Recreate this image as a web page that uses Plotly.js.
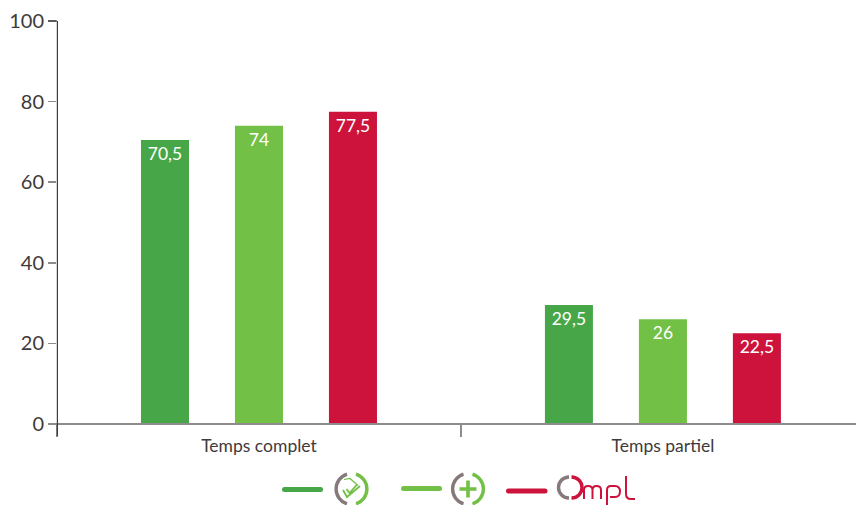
<!DOCTYPE html>
<html><head><meta charset="utf-8">
<script src="https://cdn.plot.ly/plotly-3.0.1.min.js"></script>
<style>html,body{margin:0;padding:0;background:#fff;overflow:hidden}</style></head>
<body><div id="chart" style="width:856px;height:505px"></div>
<script>
const categories = ['Temps complet','Temps partiel'];
const serieA = [70.5, 29.5];
const serieB = [74, 26];
const serieC = [77.5, 22.5];
const yTicks = [0,20,40,60,80,100];
const colors = ['#47a748','#72c045','#cd133c'];
const fmt = v => String(v).replace('.',',');
const font = 'Lato, "Noto Sans", sans-serif';
const mk = (name,vals,c) => ({type:'bar',name,x:categories,y:vals,marker:{color:c,line:{width:0}},
  text:vals.map(fmt),textposition:'inside',insidetextanchor:'end',textangle:0,cliponaxis:false,
  textfont:{family:font,size:17.5,color:'#fff'},hoverinfo:'x+y'});
const G1='#47a748',G2='#72c045',R='#cd133c',K='#85797a';
const svg = `<svg xmlns="http://www.w3.org/2000/svg" width="360" height="40" viewBox="280 465 360 40">
<g fill="none" stroke-linecap="round">
<path d="M284.5 489.5H320.5" stroke="${G1}" stroke-width="5"/>
<path d="M403.5 488.5H439.5" stroke="${G2}" stroke-width="5"/>
<path d="M508.5 491H545" stroke="${R}" stroke-width="5"/>
<g stroke-width="3.4" stroke-linecap="butt">
<path d="M347 474.2A15.5 15.5 0 0 0 347 503.8" stroke="${K}"/>
<path d="M356 474.2A15.5 15.5 0 0 1 356 503.8" stroke="${G2}"/>
<path d="M463.5 474.2A15.5 15.5 0 0 0 463.5 503.8" stroke="${K}"/>
<path d="M472.5 474.2A15.5 15.5 0 0 1 472.5 503.8" stroke="${G2}"/>
<path d="M468 480.5V497.5M459.5 489H476.5" stroke="${G2}" stroke-width="3.6"/>
<path d="M569 477A10.5 10.5 0 0 0 569 498" stroke="${K}"/>
<path d="M571.5 477A10.5 10.5 0 0 1 571.5 498" stroke="${R}"/>
<path d="M344 479.5L350 478.5L358 485.5" stroke="${G2}" stroke-width="1.2"/>
<path d="M343 490L347 497L360 486M346.5 489L349.5 493L357 484.5" stroke="${G2}" stroke-width="1.8"/>
<path d="M584 499V490Q584 486 588 486Q592.5 486 592.5 490V499M592.5 490Q592.5 486 596.5 486Q601 486 601 490V499" stroke="${R}" stroke-width="2"/>
<path d="M607 505V490Q607 486 611 486H615Q620 486 620 491.5Q620 497 615 497H610" stroke="${R}" stroke-width="2"/>
<path d="M626 476V494Q626 499 631 499H635" stroke="${R}" stroke-width="2"/>
</g></g></svg>`;
const layout = {
  width:856,height:505,showlegend:false,paper_bgcolor:'#fff',plot_bgcolor:'#fff',
  margin:{l:57,r:0,t:21,b:81,pad:0},
  barmode:'group',bargap:0.302,bargroupgap:0.489,
  font:{family:font,color:'#3f3a3b'},
  xaxis:{type:'category',range:[-0.5,1.478],tickson:'boundaries',ticks:'outside',ticklen:12,tickwidth:1.5,tickcolor:'#8f8b8c',ticklabelstandoff:9,
    showline:false,showgrid:false,zeroline:false,tickfont:{family:font,size:17.5,color:'#3f3a3b'}},
  yaxis:{range:[0,100],tickvals:yTicks,ticktext:yTicks.map(String),ticks:'outside',ticklen:8,tickwidth:1.5,tickcolor:'#8f8b8c',
    showline:false,showgrid:false,zeroline:false,tickfont:{family:font,size:20,color:'#3f3a3b'}},
  shapes:[
    {type:'line',xref:'paper',yref:'paper',x0:-9/799,x1:1,y0:0,y1:0,line:{color:'#8f8b8c',width:2}},
    {type:'line',xref:'paper',yref:'paper',x0:0.4/799,x1:0.4/799,y0:1,y1:-12/403,line:{color:'#3f3a3b',width:1.2}},
    {type:'line',xref:'paper',yref:'paper',x0:-9/799,x1:0,y0:1,y1:1,line:{color:'#3f3a3b',width:1.2}}
  ],
  images:[{source:'data:image/svg+xml;charset=utf-8,'+encodeURIComponent(svg),xref:'paper',yref:'paper',
    x:(280-57)/799,y:(424-465)/403,sizex:360/799,sizey:40/403,sizing:'stretch',xanchor:'left',yanchor:'top',layer:'above'}]
};
Plotly.newPlot('chart',[mk('Série 1',serieA,colors[0]),mk('Série 2',serieB,colors[1]),mk('Ompl',serieC,colors[2])],layout,{displayModeBar:false,staticPlot:true});
</script></body></html>
